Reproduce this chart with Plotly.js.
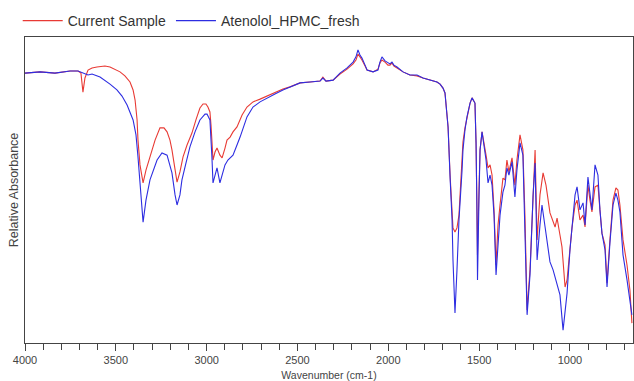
<!DOCTYPE html>
<html>
<head>
<meta charset="utf-8">
<script src="https://cdn.plot.ly/plotly-3.0.1.min.js"></script>
<style>html,body{margin:0;padding:0;background:#fff;}#chart{width:634px;height:381px;}</style>
</head>
<body>
<div id="chart"></div>
<script>
// Wavenumber (cm-1) and relative signal
const currentWn = [4000,3917,3835,3752,3708,3692,3681,3670,3653,3631,3604,3560,3532,3505,3477,3450,3422,3405,3394,3383,3378,3367,3350,3334,3312,3284,3257,3235,3218,3202,3191,3174,3163,3147,3130,3108,3081,3059,3037,3020,3004,2993,2982,2976,2971,2965,2954,2943,2927,2915,2899,2888,2871,2855,2833,2805,2778,2745,2706,2668,2624,2580,2541,2486,2431,2376,2360,2343,2304,2266,2227,2194,2178,2167,2156,2145,2128,2117,2084,2057,2046,2035,2018,2002,1991,1980,1969,1952,1919,1881,1842,1809,1770,1732,1715,1699,1688,1671,1660,1649,1644,1633,1622,1611,1594,1589,1578,1567,1550,1539,1523,1517,1512,1509,1501,1495,1484,1473,1462,1451,1440,1429,1418,1407,1396,1385,1369,1358,1347,1336,1319,1303,1292,1275,1259,1248,1236,1220,1203,1192,1181,1165,1148,1132,1110,1093,1082,1071,1066,1055,1044,1027,1016,1000,989,972,961,945,928,917,901,890,879,862,846,835,824,807,796,780,763,747,736,725,708,686,670,659];
const currentVal = [88.2,88.6,88.2,88.9,88.9,88.2,82.0,86.6,89.2,89.9,90.2,90.5,90.2,89.5,88.6,87.3,85.3,82.7,79.4,72.9,66.3,58.2,52.3,56.5,60.8,66.3,70.3,70.3,69.0,66.3,63.1,56.5,52.6,55.9,60.8,64.7,68.6,72.9,76.8,78.1,78.1,77.1,75.5,71.2,66.3,59.8,62.4,63.7,61.4,60.5,63.7,66.3,67.3,69.0,70.6,74.5,77.1,78.8,79.7,80.7,81.7,83.0,83.7,85.0,85.3,85.6,86.9,85.6,85.9,87.9,89.5,91.2,92.5,94.4,93.5,92.5,90.5,89.2,88.6,89.5,91.5,92.5,91.8,90.8,90.8,91.5,90.5,89.9,88.6,87.6,87.3,86.6,85.9,85.3,84.6,83.3,81.7,70.6,54.9,41.8,37.6,36.3,37.6,41.8,59.8,65.7,70.3,73.9,78.4,80.1,78.4,65.4,46.7,28.8,50.0,63.1,69.0,65.7,61.4,57.2,58.2,54.9,43.5,25.5,38.6,45.1,53.9,53.3,59.8,55.9,60.5,51.6,59.8,68.0,63.1,41.8,10.8,23.9,51.6,63.1,33.7,48.4,55.6,51.6,42.5,39.5,37.9,40.8,38.6,35.3,31.4,18.3,20.6,30.4,37.6,45.1,46.7,40.2,41.8,37.9,51.6,46.7,42.8,51.0,51.6,43.5,35.9,32.0,19.6,33.7,46.7,50.7,50.0,45.1,33.7,25.5,17.3,6.5];

const freshWn = [4000,3917,3835,3752,3708,3675,3653,3631,3587,3532,3494,3466,3438,3405,3389,3378,3367,3350,3334,3312,3273,3246,3218,3191,3174,3163,3147,3136,3114,3092,3064,3037,3009,2998,2982,2976,2971,2965,2954,2943,2927,2910,2899,2883,2855,2833,2816,2778,2745,2706,2668,2624,2580,2541,2486,2431,2376,2360,2343,2304,2266,2227,2194,2178,2167,2156,2145,2128,2117,2084,2057,2046,2035,2018,2002,1991,1980,1969,1952,1919,1881,1842,1809,1770,1732,1715,1699,1688,1671,1660,1649,1644,1633,1622,1611,1594,1589,1578,1567,1550,1539,1523,1517,1512,1509,1501,1495,1484,1473,1462,1451,1440,1429,1418,1407,1396,1385,1369,1358,1347,1336,1319,1303,1292,1275,1259,1248,1236,1220,1203,1192,1181,1165,1154,1137,1121,1110,1093,1082,1066,1055,1038,1027,1016,1000,989,972,961,945,928,917,901,890,879,862,846,835,824,807,796,780,763,747,736,725,708,686,670,659];
const freshVal = [88.2,88.6,88.2,88.9,88.9,88.2,87.6,87.9,86.9,84.6,82.7,80.7,77.8,72.9,68.0,60.8,51.6,39.5,46.7,53.3,59.8,62.1,61.4,55.6,48.4,45.1,48.4,53.3,58.8,64.1,69.0,72.9,74.8,74.8,72.9,68.0,60.8,52.3,54.9,57.2,52.3,55.6,58.2,59.8,61.4,64.7,67.3,73.9,77.1,78.8,80.1,81.4,82.7,83.7,85.0,85.3,85.6,86.6,85.6,85.9,88.2,89.9,91.8,93.5,95.8,94.1,93.1,90.8,89.2,88.6,89.2,91.8,93.5,92.2,91.5,91.2,91.8,90.8,90.2,88.6,87.6,87.6,86.6,85.9,85.3,84.6,83.3,81.7,70.6,54.2,40.2,27.1,9.8,23.9,40.2,56.5,63.1,69.6,73.9,78.4,80.1,78.4,65.4,43.5,20.6,46.7,63.1,69.0,64.7,59.8,52.3,54.9,51.6,41.8,22.2,32.0,41.8,49.3,51.6,57.2,54.9,59.2,47.7,56.5,65.4,61.4,40.2,9.2,22.2,48.4,58.8,27.1,38.6,45.1,37.9,30.4,26.5,23.9,21.6,18.3,15.7,4.2,10.8,16.3,30.4,37.9,48.4,51.0,43.5,45.8,38.6,54.2,48.4,43.5,58.2,54.9,43.5,35.9,30.4,18.3,32.7,45.1,49.0,46.7,42.8,28.8,20.6,13.1,9.2];

const seriesNames = ['Current Sample', 'Atenolol_HPMC_fresh'];
const tickVals = [4000,3500,3000,2500,2000,1500,1000];
const tickText = ['4000','3500','3000','2500','2000','1500','1000'];

const traces = [
  {x: currentWn, y: currentVal, name: seriesNames[0], type: 'scatter', mode: 'lines',
   line: {color: 'rgb(232,58,52)', width: 1.1}},
  {x: freshWn, y: freshVal, name: seriesNames[1], type: 'scatter', mode: 'lines',
   line: {color: 'rgb(45,45,225)', width: 1.1}}
];

const layout = {
  width: 634, height: 381,
  margin: {l: 25, r: 1, t: 37, b: 38, pad: 0},
  paper_bgcolor: '#fff', plot_bgcolor: '#fff',
  font: {family: 'Liberation Sans, Arial, sans-serif', color: '#333', size: 11},
  showlegend: true,
  legend: {orientation: 'h', x: -0.012, xanchor: 'left', y: 1.0, yanchor: 'bottom',
           itemwidth: 40,
           font: {size: 14, color: '#333'}, bgcolor: 'rgba(0,0,0,0)'},
  xaxis: {
    range: [4000, 653], autorange: false,
    tickmode: 'array', tickvals: tickVals, ticktext: tickText,
    ticks: 'outside', ticklen: 7, tickcolor: '#444', tickwidth: 1,
    minor: {dtick: 100, ticks: 'outside', ticklen: 6, tickcolor: '#444', showgrid: false},
    showline: true, linecolor: '#444', linewidth: 1, mirror: true,
    showgrid: false, zeroline: false,
    tickfont: {size: 11, color: '#444'},
    title: {text: 'Wavenumber (cm-1)', font: {size: 10.5, color: '#444'}, standoff: 7}
  },
  yaxis: {
    range: [0, 100], autorange: false,
    showticklabels: false, ticks: '',
    showline: true, linecolor: '#444', linewidth: 1, mirror: true,
    showgrid: false, zeroline: false,
    title: {text: 'Relative Absorbance', font: {size: 12.5, color: '#444'}, standoff: 2}
  }
};

Plotly.newPlot('chart', traces, layout, {displayModeBar: false, staticPlot: true});
</script>
</body>
</html>
